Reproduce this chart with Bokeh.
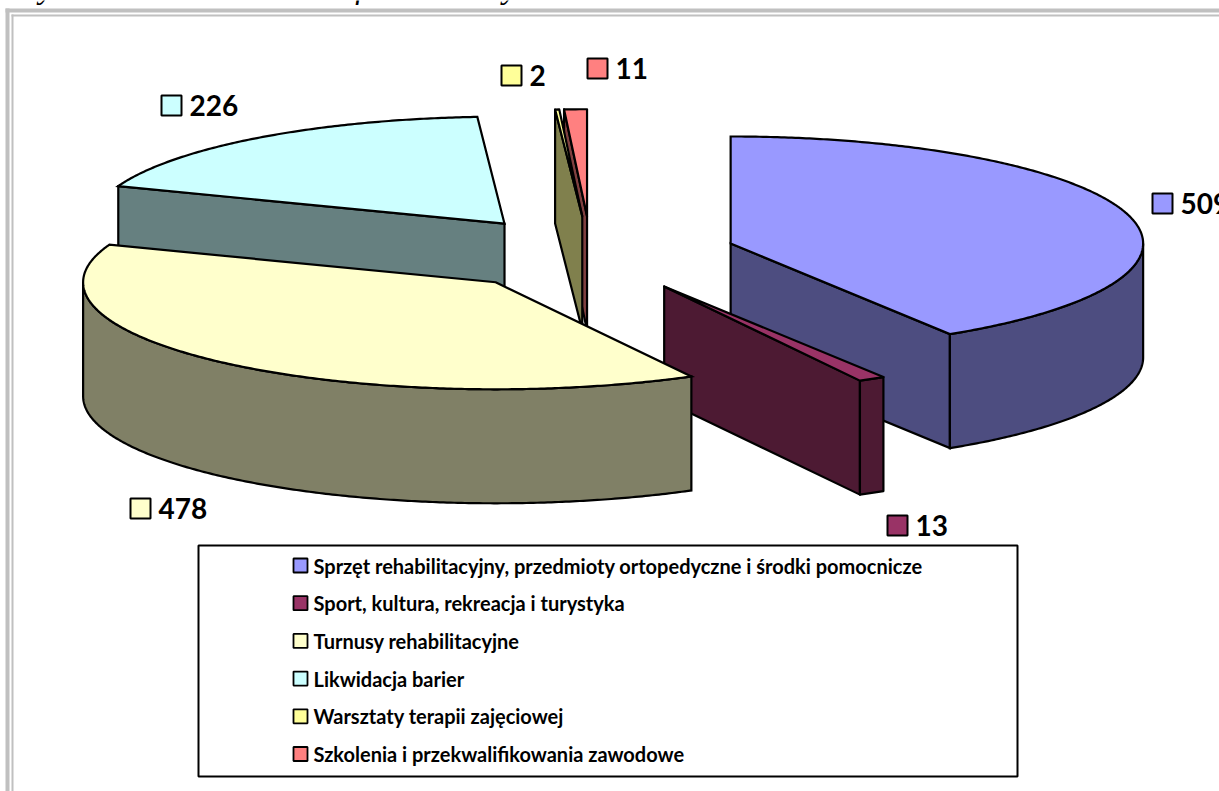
import math
from bokeh.plotting import figure
from bokeh.models import Range1d
from bokeh.core.properties import value
from bokeh.embed import file_html
from bokeh.resources import INLINE

# ---- data ----
categories = [
    "Sprzęt rehabilitacyjny, przedmioty ortopedyczne i środki pomocnicze",
    "Sport, kultura, rekreacja i turystyka",
    "Turnusy rehabilitacyjne",
    "Likwidacja barier",
    "Warsztaty terapii zajęciowej",
    "Szkolenia i przekwalifikowania zawodowe",
]
values = [509, 13, 478, 226, 2, 11]
title_text = "Wykres 4. Liczba zadań dofinansowanych ze środków PFRON w 2008 r."

# ---- style ----
top_colors = ["#9999FF", "#993366", "#FFFFCC", "#CCFFFF", "#FFFF99", "#FF8080"]
side_colors = ["#4D4D80", "#4D1A33", "#808066", "#668080", "#80804D", "#804040"]

# ---- layout (page pixels) ----
W, H = 1219, 791
CX, CY, RX, RY, DEPTH, EXPLODE = 590.6, 253.4, 412.5, 107, 114, 0.352
PAINT_ORDER = [3, 5, 4, 0, 1, 2]
LABEL_MARKERS = [(1152, 193), (887, 515), (130, 498), (161, 95), (501, 65), (587, 58)]
MARK = 20
LW = 2.2
FONT = value("Lato")

p = figure(width=W, height=H, output_backend="svg", toolbar_location=None,
           x_range=Range1d(0, W), y_range=Range1d(H, 0), min_border=0,
           outline_line_color=None, background_fill_color="white")
p.axis.visible = False
p.grid.visible = False

# double frame of the page
gray = "#C0C0C0"
for x0, y0, t in [(5, 8, 4), (11, 14, 2)]:
    p.quad(left=[x0], right=[W], top=[y0], bottom=[y0 + t], fill_color=gray, line_color=None)
    p.quad(left=[x0], right=[x0 + t], top=[y0], bottom=[H], fill_color=gray, line_color=None)

p.text([15], [-14], text=[title_text], text_font=value("Liberation Serif"),
       text_font_style="italic", text_font_size="32px", text_color="black",
       text_baseline="middle")

# ---- exploded 3D pie, computed from the values ----
total = sum(values)
edges = [0.0]
for v in values:
    edges.append(edges[-1] + v / total * 2 * math.pi)


def rim(ax, ay, t):
    return ax + RX * math.sin(t), ay - RY * math.cos(t)


def arc(ax, ay, t0, t1, step=math.radians(0.5)):
    n = max(2, int(abs(t1 - t0) / step) + 1)
    return [rim(ax, ay, t0 + (t1 - t0) * i / (n - 1)) for i in range(n)]


def poly(points, color, join):
    p.patch([q[0] for q in points], [q[1] for q in points], fill_color=color,
            line_color="black", line_width=LW, line_join=join)


for i in PAINT_ORDER:
    t0, t1 = edges[i], edges[i + 1]
    mid = (t0 + t1) / 2
    ax, ay = rim(CX, CY, mid)
    ax, ay = CX + (ax - CX) * EXPLODE, CY + (ay - CY) * EXPLODE
    top_arc = arc(ax, ay, t0, t1)
    side = side_colors[i]
    # very thin wedges would get long miter spikes
    join = "miter" if t1 - t0 > math.radians(10) else "round"

    # cut faces that turn toward the viewer
    if math.sin(t0) < 0:      # start face, seen on the left half
        e = rim(ax, ay, t0)
        poly([(ax, ay), e, (e[0], e[1] + DEPTH), (ax, ay + DEPTH)], side, join)
    if math.sin(t1) > 0:      # end face, seen on the right half
        e = rim(ax, ay, t1)
        poly([(ax, ay), e, (e[0], e[1] + DEPTH), (ax, ay + DEPTH)], side, join)

    # outer wall: only the front half of the rim
    w0, w1 = max(t0, math.pi / 2), min(t1, 3 * math.pi / 2)
    if w1 > w0:
        wall = arc(ax, ay, w0, w1)
        poly(wall + [(q[0], q[1] + DEPTH) for q in reversed(wall)], side, join)

    poly([(ax, ay)] + top_arc, top_colors[i], join)

# ---- data labels ----
for (mx, my), v, c in zip(LABEL_MARKERS, values, top_colors):
    p.quad(left=[mx], right=[mx + MARK], top=[my], bottom=[my + MARK], fill_color=c,
           line_color="black", line_width=2)
    p.text([mx + MARK + 8], [my + MARK / 2], text=[str(v)], text_font=FONT,
           text_font_style="bold", text_font_size="28px", text_color="black",
           text_baseline="middle")

# ---- legend ----
LEG_L, LEG_T, LEG_R, LEG_B = 198, 545, 1017, 776
p.quad(left=[LEG_L], right=[LEG_R], top=[LEG_T], bottom=[LEG_B], fill_color="white",
       line_color="black", line_width=2)
LEG_Y0, LEG_STEP, LEG_X, LEG_BOX = 565, 37.7, 293, 14
for k, (name, c) in enumerate(zip(categories, top_colors)):
    y = LEG_Y0 + k * LEG_STEP
    p.quad(left=[LEG_X], right=[LEG_X + LEG_BOX], top=[y - LEG_BOX / 2], bottom=[y + LEG_BOX / 2],
           fill_color=c, line_color="black", line_width=1.8)
    p.text([LEG_X + LEG_BOX + 6], [y], text=[name], text_font=FONT,
           text_font_style="bold", text_font_size="20px", text_color="black",
           text_baseline="middle")

open("out.html", "w").write(file_html(p, INLINE))
